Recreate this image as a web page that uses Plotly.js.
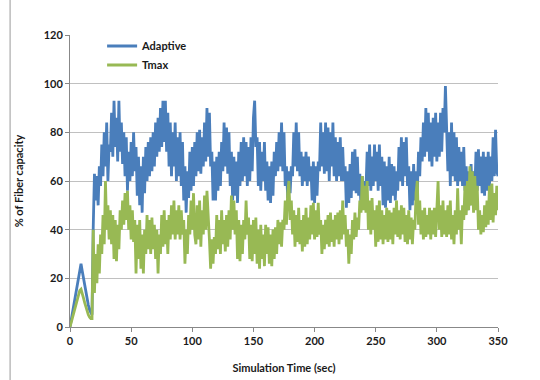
<!DOCTYPE html>
<html>
<head>
<meta charset="utf-8">
<script src="https://cdn.plot.ly/plotly-3.0.1.min.js"></script>
<style>html,body{margin:0;padding:0;background:#fff;}#chart{width:540px;height:380px;}</style>
</head>
<body>
<div id="chart"></div>
<script>
// Simulation time, one sample per second (0..350)
const timeSec = Array.from({length: 351}, (_, i) => i);

const adaptive = [
  0,3,6,9,12,15,18,21,24,26,
  23,20,17,14,11,9,7,6,5,41,
  63,52,62,50,66,58,75,62,80,66,
  84,60,75,72,88,70,93,74,86,68,
  93,72,84,67,80,62,78,56,72,60,
  76,62,80,64,74,54,70,50,66,47,
  70,55,74,60,76,62,78,64,80,66,
  84,70,86,72,90,74,93,76,93,72,
  88,66,84,62,80,66,84,60,78,62,
  80,58,76,52,66,47,64,53,72,56,
  74,58,76,62,80,64,81,63,78,66,
  84,68,90,70,88,66,72,52,68,52,
  70,56,72,58,76,64,84,66,82,63,
  80,58,72,52,70,54,68,51,72,58,
  76,60,78,62,76,58,74,60,78,64,
  86,93,74,78,58,76,56,72,60,76,
  56,68,52,66,51,68,54,72,62,76,
  64,80,66,84,64,80,58,66,53,64,
  55,66,62,80,66,84,64,80,62,72,
  58,70,60,72,58,70,60,66,52,68,
  51,66,54,68,64,84,66,80,63,84,
  64,82,60,80,66,84,62,78,60,76,
  62,78,60,74,60,66,49,64,51,67,
  53,72,56,73,55,70,54,63,48,62,
  50,60,56,72,58,75,56,70,58,75,
  60,72,56,75,58,70,50,68,49,66,
  52,70,51,67,54,66,52,64,56,74,
  60,78,58,76,62,78,58,66,48,64,
  50,67,52,64,55,72,62,78,68,84,
  70,90,72,88,68,84,66,86,70,88,
  68,84,70,88,72,90,80,99,84,64,
  80,58,84,62,80,60,78,58,74,60,
  72,58,74,56,66,48,64,50,67,52,
  64,55,72,56,73,58,70,55,72,54,
  70,56,72,58,70,60,78,62,81,64,
  62
];

const tmax = [
  0,2,4,6,8,10,12,14,15,15.5,
  14,12,10,8,6,5,4,3.5,3.5,40,
  14,30,18,34,22,38,30,46,34,60,
  40,50,36,48,34,46,28,44,27,42,
  32,48,40,52,42,55,44,56,40,50,
  36,48,35,44,22,42,28,44,24,38,
  22,40,30,46,32,44,30,45,32,42,
  28,40,22,38,30,46,33,48,34,44,
  30,46,36,50,38,52,36,48,38,50,
  36,48,38,44,26,40,30,46,38,52,
  40,55,38,34,50,36,52,33,48,38,
  54,40,56,42,36,24,36,26,37,30,
  46,32,44,30,48,34,44,31,46,33,
  48,36,54,40,52,38,48,28,44,27,
  42,30,44,36,52,38,45,28,42,27,
  44,30,45,26,40,24,42,28,38,25,
  42,30,41,26,38,25,40,28,41,30,
  44,34,43,33,44,40,52,42,55,60,
  44,52,38,48,33,46,35,49,34,44,
  31,46,33,49,34,45,36,50,38,51,
  36,48,37,51,38,44,30,42,32,44,
  34,46,33,47,35,44,33,46,36,47,
  34,48,36,52,38,46,33,40,26,38,
  30,44,36,47,37,45,40,52,47,62,
  48,58,47,60,40,52,38,53,40,48,
  33,50,35,52,36,48,34,46,36,49,
  35,48,36,47,34,49,38,52,37,48,
  36,50,38,49,35,46,34,48,36,45,
  34,44,40,55,60,42,52,38,48,36,
  49,37,46,38,49,36,48,38,49,37,
  46,60,40,50,37,52,38,48,37,50,
  38,52,36,46,34,48,38,57,40,48,
  34,50,44,58,46,60,48,66,50,64,
  47,62,48,58,40,48,38,46,39,50,
  41,52,42,58,44,59,43,55,46,58,
  48
];

const seriesNames = ['Adaptive', 'Tmax'];
const xTicks = [0, 50, 100, 150, 200, 250, 300, 350];
const yTicks = [0, 20, 40, 60, 80, 100, 120];

const fontFam = 'Lato, "Open Sans", sans-serif';
const boldFont = {family: fontFam, size: 11, color: '#1a1a1a', weight: 'bold'};

const traces = [
  {x: timeSec, y: adaptive, name: seriesNames[0], type: 'scatter', mode: 'lines',
   line: {color: '#4A7EBB', width: 2.8}},
  {x: timeSec, y: tmax, name: seriesNames[1], type: 'scatter', mode: 'lines',
   line: {color: '#98B954', width: 2.8}}
];

const layout = {
  width: 540, height: 380,
  margin: {l: 70, r: 42, t: 35, b: 53},
  paper_bgcolor: '#fff', plot_bgcolor: '#fff',
  font: boldFont,
  showlegend: true,
  legend: {x: 0.075, y: 1.012, xanchor: 'left', yanchor: 'top', bgcolor: 'rgba(0,0,0,0)',
    font: boldFont, tracegroupgap: 0},
  xaxis: {
    range: [0, 350], tickvals: xTicks, ticktext: xTicks.map(String),
    showgrid: false, zeroline: false, showline: true, linecolor: '#888', linewidth: 1,
    ticks: 'outside', ticklen: 4, tickcolor: '#888',
    tickfont: boldFont,
    title: {text: 'Simulation Time (sec)', font: boldFont, standoff: 18}
  },
  yaxis: {
    range: [0, 120], tickvals: yTicks, ticktext: yTicks.map(String),
    showgrid: true, gridcolor: '#c0c0c0', gridwidth: 1, zeroline: false,
    showline: true, linecolor: '#888', linewidth: 1,
    ticks: 'outside', ticklen: 4, tickcolor: '#888',
    tickfont: boldFont,
    title: {text: '% of Fiber capacity', font: boldFont, standoff: 17}
  },
  shapes: [
    {type: 'line', xref: 'paper', yref: 'paper', x0: -0.14, x1: -0.14, y0: -0.2, y1: 1.13,
     line: {color: '#999', width: 1}}
  ]
};

Plotly.newPlot('chart', traces, layout, {displayModeBar: false, staticPlot: true});
</script>
</body>
</html>
